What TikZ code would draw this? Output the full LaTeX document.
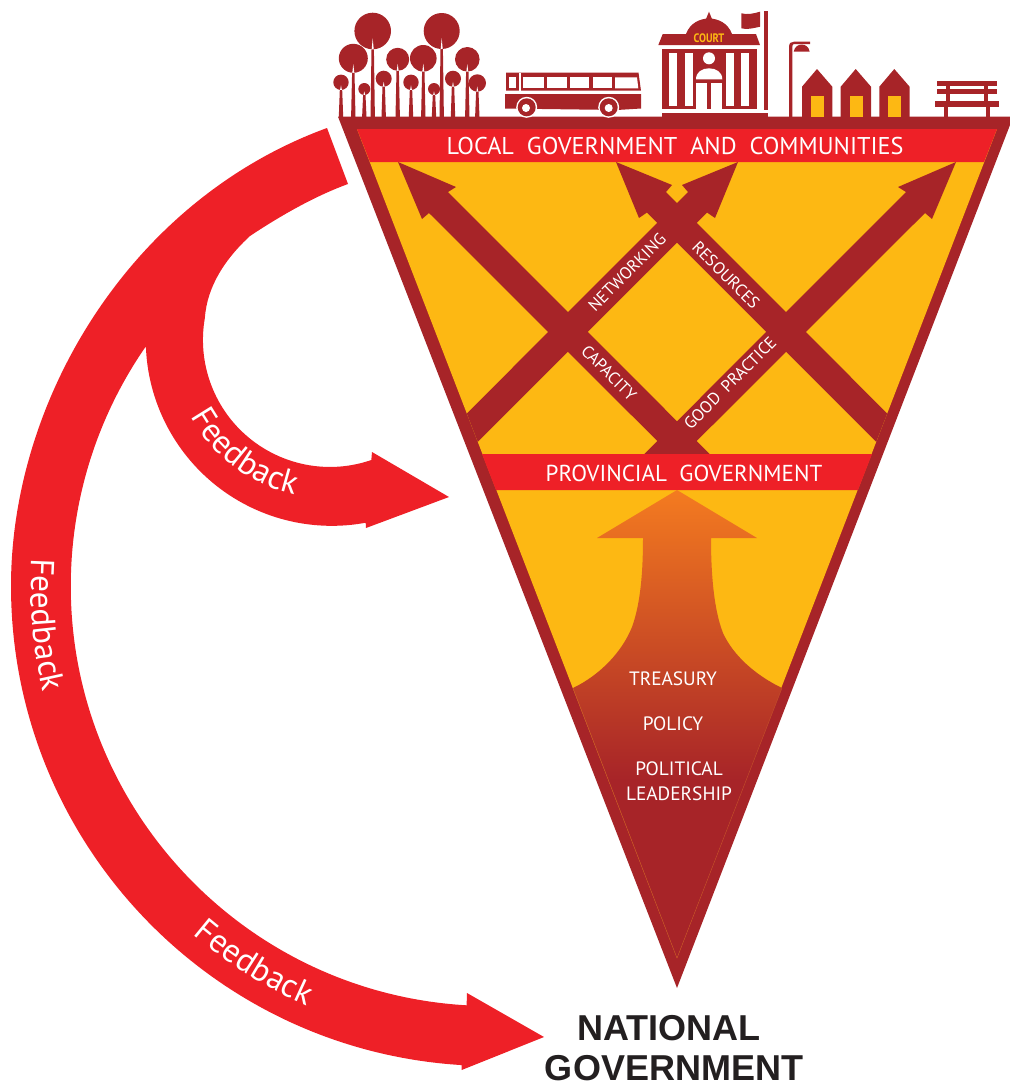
\documentclass[tikz,border=0pt]{standalone}
\usepackage{fontspec}
\setmainfont{PT Sans}
\newfontfamily\headfont{Liberation Sans}
\usetikzlibrary{decorations.text}
\definecolor{maroon}{HTML}{A72428}
\definecolor{flagred}{HTML}{EE2027}
\definecolor{amber}{HTML}{FDB813}
\definecolor{fadeorange}{HTML}{F47B20}
\definecolor{hairline}{HTML}{C4502A}
\definecolor{inkblack}{HTML}{231F20}
\pgfdeclareverticalshading{arrowfade}{100bp}{color(0bp)=(maroon); color(44bp)=(maroon); color(75bp)=(fadeorange); color(100bp)=(fadeorange)}
\tikzset{
	bandtext/.style={text=white, font=\fontsize{17.3}{20}\selectfont, inner sep=0pt},
	roadtext/.style={text=white, font=\fontsize{12.6}{14}\selectfont, inner sep=0pt},
	basetext/.style={text=white, font=\fontsize{14.5}{18}\selectfont, inner sep=0pt, align=center},
	feedtext/.style={decorate, decoration={text along path, text align=center, text={|\fontsize{25}{30}\selectfont\color{white}|Feedback}}},
	headtext/.style={text=inkblack, font=\headfont\bfseries\fontsize{27}{30}\selectfont, inner sep=0pt}
}
\def\treeicon(#1,#2,#3){
	\fill[maroon] (#1, #2) circle (#3);
	\fill[white] (#1-1.1, #2+#3+1) -- (#1, #2+0.4*#3) -- (#1+1.1, #2+#3+1) -- cycle;
	\fill[maroon] (#1-1.2, #2+#3) -- (#1+1.2, #2+#3) -- (#1+2.2, 117) -- (#1-2.2, 117) -- cycle;
}
\def\houseicon(#1){
	\fill[maroon] (#1, 117) -- (#1, 86.7) -- (#1+15, 69) -- (#1+30.3, 86.7) -- (#1+30.3, 117) -- cycle;
	\fill[amber] (#1+9, 96) rectangle (#1+22, 116.7);
}
\begin{document}
\begin{tikzpicture}[x=0.75pt, y=-0.75pt]
	%%%%% START %%%%%
	\useasboundingbox (0, 0) rectangle (1010, 1086);

	% funnel
	\fill[maroon] (338, 116.7) -- (1010, 116.7) -- (1010, 125) -- (677, 988) -- cycle;
	\fill[amber] (357, 129) -- (997, 129) -- (677, 958) -- cycle;

	% crossing arrows
	\fill[maroon] (466.8, 413.5) -- (688, 192) -- (682, 185) -- (738, 162) -- (715, 218) -- (707, 212.5) -- (477.8, 441.9) -- cycle;
	\fill[maroon] (887.2, 413.5) -- (666, 192) -- (672, 185) -- (616, 162) -- (639, 218) -- (647, 212.5) -- (876.2, 441.9) -- cycle;
	\fill[maroon] (709.7, 454) -- (448, 192) -- (456, 187) -- (398, 162) -- (422, 219) -- (429, 213) -- (670.3, 454) -- cycle;
	\fill[maroon] (644.3, 454) -- (906, 192) -- (898, 187) -- (956, 162) -- (932, 219) -- (925, 213) -- (683.7, 454) -- cycle;

	% bands
	\fill[flagred] (357, 129) -- (997, 129) -- (984, 162) -- (370, 162) -- cycle;
	\fill[flagred] (482, 454) -- (872, 454) -- (858, 490) -- (496, 490) -- cycle;

	% rising arrow
	\shade[shading=arrowfade] (677, 490) -- (757, 538) -- (711, 538) .. controls (711, 575) and (714, 610) .. (723, 633) .. controls (733, 655) and (755, 675) .. (782, 688) -- (677, 958) -- (573, 688) .. controls (600, 675) and (622, 652) .. (632, 627) .. controls (640, 605) and (643, 575) .. (643, 538) -- (597, 538) -- cycle;
	\draw[hairline, line width=0.3pt] (573, 688) -- (677, 958) -- (782, 688);

	% feedback arrows
	\fill[flagred] (327, 128) .. controls (130, 200) and (11, 400) .. (11, 586) arc (180:93.5:480) -- (461.7, 1070) -- (544, 1037) -- (467, 993) -- (466.6, 1005.3) arc (93.3:214.8:420) arc (178:79.5:186) -- (366, 528) -- (449, 497) -- (372, 452) -- (371.3, 460) arc (71:190:127) .. controls (207, 286) and (226, 258) .. (250, 236) .. controls (280, 216) and (315, 196) .. (348, 184) -- cycle;

	\path[feedtext] (176.4, 381) arc (165:89:159);
	\path[feedtext] (33.5, 538) arc (186:164:459);
	\path[feedtext] (177.6, 921) arc (133:111:458);

	% labels
	\node[bandtext, font=\fontsize{18.2}{20}\selectfont] (localtext) at (675, 146) {LOCAL\ \ GOVERNMENT\ \ AND\ \ COMMUNITIES};
	\node[bandtext] (provtext) at (684, 473) {PROVINCIAL\ \ GOVERNMENT};
	\node[roadtext, rotate=45] (nettext) at (627, 272) {NETWORKING};
	\node[roadtext, rotate=-45] (restext) at (726, 275) {RESOURCES};
	\node[roadtext, rotate=-45] (captext) at (609, 373) {CAPACITY};
	\node[roadtext, rotate=45] (goodtext) at (730, 383) {GOOD\hspace{6pt}PRACTICE};
	\node[basetext] (treasurytext) at (673, 679) {TREASURY};
	\node[basetext] (policytext) at (673, 724) {POLICY};
	\node[basetext] (leadertext) at (679, 781) {POLITICAL\\[1pt]LEADERSHIP};
	\node[headtext] (nattext) at (669, 1028) {NATIONAL};
	\node[headtext] (govtext) at (674, 1068) {GOVERNMENT};

	% trees
	\treeicon(372.7,31,18.3)
	\treeicon(441.7,31,18)
	\treeicon(353.3,58.3,14.5)
	\treeicon(397.7,59.3,11.5)
	\treeicon(423.3,58.3,13.3)
	\treeicon(467.3,59.3,12.3)
	\treeicon(341,82.3,7.7)
	\treeicon(364.3,89,6)
	\treeicon(383.7,78.7,8)
	\treeicon(411,82.3,7.7)
	\treeicon(434,89,6)
	\treeicon(453,78.7,8)
	\treeicon(477.3,83,8.7)

	% bus
	\fill[maroon] (506, 72.7) -- (638.5, 72.7) -- (641, 90.7) -- (506, 90.7) -- cycle;
	\fill[white] (509.3, 77.3) rectangle (516, 88.3);
	\fill[white] (519, 72.7) rectangle (520.7, 90.7);
	\fill[white] (523.3, 77.3) rectangle (544, 88.3);
	\fill[white] (546.7, 77.3) rectangle (567.3, 88.3);
	\fill[white] (570, 77.3) rectangle (588.7, 88.3);
	\fill[white] (593.3, 77.3) rectangle (611.7, 88.3);
	\fill[white] (615, 77.3) -- (637, 77.3) -- (638.3, 88.3) -- (615, 88.3) -- cycle;
	\fill[maroon] (505, 94) -- (641, 94) -- (641, 108.5) -- (617, 110) -- (505, 108.5) -- cycle;
	\fill[white] (526.7, 107.3) circle (10.5);
	\fill[white] (608.7, 107.3) circle (10.5);
	\fill[maroon] (526.7, 107.3) circle (9);
	\fill[maroon] (608.7, 107.3) circle (9);
	\fill[white] (526, 108) circle (4);
	\fill[white] (608.7, 108) circle (4);

	% court house
	\fill[maroon] (709, 11.7) -- (712, 19) -- (706, 19) -- cycle;
	\fill[maroon] (686, 34) .. controls (690, 23) and (700, 18.5) .. (709, 18.5) .. controls (718, 18.5) and (728, 23) .. (732, 34) -- cycle;
	\fill[maroon] (662.7, 34) -- (756, 34) -- (760, 45) -- (658.3, 45) -- cycle;
	\node[text=amber, font=\bfseries\fontsize{9.2}{10}\selectfont, inner sep=0pt] (courttext) at (709, 38) {\scalebox{0.85}[1]{COURT}};
	\fill[maroon] (662, 49.3) rectangle (756.7, 109.3);
	\fill[white] (669.3, 52.7) rectangle (677.3, 106);
	\fill[white] (684.7, 52.7) rectangle (692.7, 106);
	\fill[white] (726.3, 52.7) rectangle (734, 106);
	\fill[white] (741.3, 52.7) rectangle (749.3, 106);
	\fill[white] (709, 58.3) circle (6);
	\fill[white] (696, 79.3) .. controls (696, 72) and (702, 68.3) .. (709, 68.3) .. controls (716, 68.3) and (722.3, 72) .. (722.3, 79.3) -- cycle;
	\fill[white] (696, 82.7) rectangle (722.3, 109.3);
	\fill[maroon] (707.3, 82.7) rectangle (711, 109.3);
	\fill[maroon] (662, 112.7) rectangle (768, 117);
	\fill[maroon] (764, 11) rectangle (768, 110);
	\fill[maroon] (741.3, 13.3) .. controls (747, 15) and (754, 13.5) .. (760, 11.7) -- (760, 26.7) .. controls (754, 28) and (747, 30) .. (741.3, 28.3) -- cycle;

	% lamp
	\fill[maroon] (789, 117) -- (789, 47) .. controls (789, 43) and (791, 41.7) .. (794, 41.7) -- (810, 41.7) -- (810, 44) -- (794, 44) .. controls (793, 44) and (792.3, 45) .. (792.3, 47) -- (792.3, 117) -- cycle;
	\fill[maroon] (793.7, 51.7) .. controls (794.5, 47) and (798, 44.5) .. (801.7, 44.5) .. controls (805.5, 44.5) and (809, 47) .. (809.7, 51.7) -- cycle;

	% houses
	\houseicon(802)
	\houseicon(840.7)
	\houseicon(879.3)

	% bench
	\fill[maroon] (937.3, 81) rectangle (996.7, 86);
	\fill[maroon] (937.3, 88.7) rectangle (996.7, 93.7);
	\fill[maroon] (935, 100.7) rectangle (999, 107.3);
	\fill[maroon] (946, 81) rectangle (950, 100.7);
	\fill[maroon] (984.3, 81) rectangle (988, 100.7);
	\fill[maroon] (944, 107.3) rectangle (948.3, 117);
	\fill[maroon] (986, 107.3) rectangle (990.3, 117);
	%%%%% END %%%%%
\end{tikzpicture}
\end{document}
